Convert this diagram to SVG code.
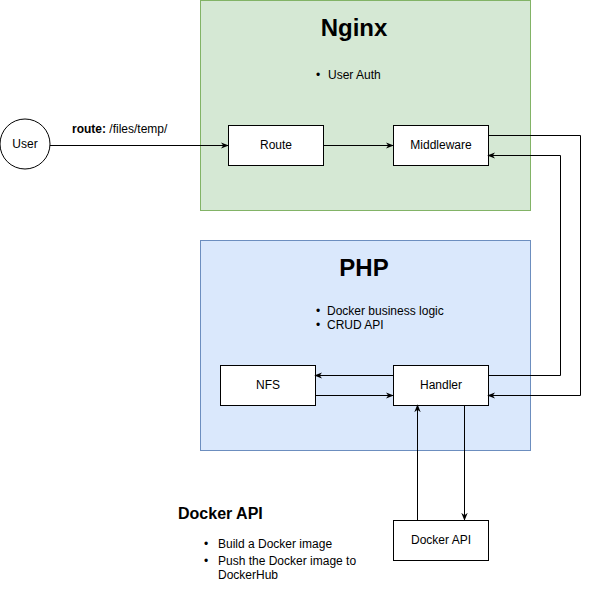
<svg xmlns="http://www.w3.org/2000/svg" width="589" height="602" viewBox="0 0 589 602">
<defs>
<marker id="arr" viewBox="0 0 10 10" refX="9" refY="5" markerWidth="8" markerHeight="8" orient="auto" markerUnits="userSpaceOnUse">
<path d="M0,1 L10,5 L0,9 L3,5 Z" fill="#000"/>
</marker>
</defs>
<style>
text{font-family:"Liberation Sans",Arial,sans-serif;fill:#000}
.box{fill:#fff;stroke:#000;stroke-width:1}
.lbl{font-size:12px;text-anchor:middle}
.t{font-size:12px}
.title{font-size:24px;font-weight:bold;text-anchor:middle}
.conn path{fill:none;stroke:#000;stroke-width:1;marker-end:url(#arr)}
</style>
<rect width="589" height="602" fill="#fff"/>
<g id="nginx">
<rect x="200.5" y="0.5" width="330" height="210" fill="#d5e8d4" stroke="#82b366"/>
<text class="title" x="354" y="36">Nginx</text>
<text class="t" x="316" y="79">•</text>
<text class="t" x="328" y="79">User Auth</text>
</g>
<g id="php">
<rect x="200.5" y="240.5" width="330" height="210" fill="#dae8fc" stroke="#6c8ebf"/>
<text class="title" x="364" y="276">PHP</text>
<text class="t" x="316" y="315">•</text>
<text class="t" x="327" y="315">Docker business logic</text>
<text class="t" x="316" y="329">•</text>
<text class="t" x="327" y="329">CRUD API</text>
</g>
<g id="user">
<circle cx="25" cy="144" r="25" class="box"/>
<text class="lbl" x="25" y="148">User</text>
</g>
<g id="route">
<rect x="228.5" y="125.5" width="95" height="40" class="box"/>
<text class="lbl" x="276" y="149">Route</text>
</g>
<g id="middleware">
<rect x="393.5" y="125.5" width="95" height="40" class="box"/>
<text class="lbl" x="441" y="149">Middleware</text>
</g>
<g id="nfs">
<rect x="220.5" y="365.5" width="95" height="40" class="box"/>
<text class="lbl" x="268" y="389">NFS</text>
</g>
<g id="handler">
<rect x="393.5" y="365.5" width="95" height="40" class="box"/>
<text class="lbl" x="441" y="389">Handler</text>
</g>
<g id="dockerapi">
<rect x="393.5" y="520.5" width="95" height="40" class="box"/>
<text class="lbl" x="441" y="544">Docker API</text>
</g>
<g id="dockerapi-note">
<text x="178" y="519" style="font-size:16px;font-weight:bold">Docker API</text>
<text class="t" x="204" y="548">•</text>
<text class="t" x="218" y="548">Build a Docker image</text>
<text class="t" x="204" y="565">•</text>
<text class="t" x="218" y="565">Push the Docker image to</text>
<text class="t" x="218" y="579">DockerHub</text>
</g>
<g id="connectors" class="conn">
<path d="M50,145.5 H228"/>
<path d="M323,145.5 H393"/>
<path d="M488,135.5 H580.5 V395.5 H488"/>
<path d="M488,375.5 H560.5 V155.5 H488"/>
<path d="M393,375.5 H315"/>
<path d="M315,395.5 H393"/>
<path d="M417.5,520 V405"/>
<path d="M464.5,405 V520"/>
</g>
<text class="t" x="72" y="133"><tspan font-weight="bold">route:</tspan> /files/temp/</text>
</svg>
